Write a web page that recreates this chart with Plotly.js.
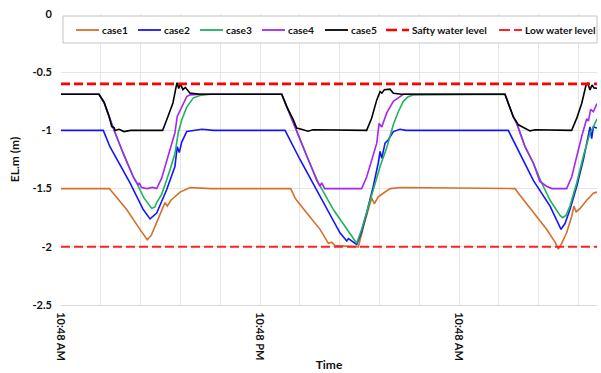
<!DOCTYPE html>
<html><head><meta charset="utf-8">
<script src="https://cdn.plot.ly/plotly-3.0.1.min.js"></script>
<style>html,body{margin:0;padding:0;background:#fff}#chart{width:601px;height:373px}</style>
</head><body><div id="chart"></div>
<script>
// ---- data (x = hours since 10:48 AM, y = EL.m in metres) ----
const seriesNames = ['case1','case2','case3','case4','case5'];
const case1X = [0,2.91,3.15,3.96,4.76,5.0,5.20,5.45,5.77,6.07,6.27,6.41,6.63,7.18,7.78,9.0,13.85,14.11,14.21,14.82,15.62,16.12,16.32,16.52,17.93,18.23,18.53,18.73,18.89,19.13,19.43,19.84,20.5,27.38,27.58,28.48,29.28,29.79,29.99,30.19,30.49,30.79,30.93,31.06,31.30,31.70,32.1,32.32];
const case1Y = [-1.5,-1.5,-1.54,-1.68,-1.85,-1.9,-1.94,-1.9,-1.79,-1.68,-1.62,-1.65,-1.6,-1.53,-1.49,-1.5,-1.5,-1.58,-1.6,-1.71,-1.85,-1.97,-1.96,-1.99,-2.0,-1.83,-1.68,-1.58,-1.63,-1.57,-1.54,-1.5,-1.49,-1.5,-1.54,-1.7,-1.85,-1.96,-2.02,-1.97,-1.88,-1.74,-1.65,-1.7,-1.67,-1.6,-1.54,-1.53];
const case2X = [0,2.55,2.95,4.16,4.96,5.37,5.77,6.37,6.87,7.01,7.13,7.28,7.58,8.0,8.5,9.2,13.51,14.41,15.62,16.82,17.23,17.33,17.83,18.13,18.43,18.83,19.13,19.24,19.34,19.54,19.74,20.04,20.44,20.8,26.97,27.48,28.48,29.49,30.15,30.39,30.69,31.10,31.50,31.8,31.9,32.0,32.1,32.32];
const case2Y = [-1.0,-1.0,-1.14,-1.45,-1.68,-1.76,-1.71,-1.51,-1.31,-1.14,-1.19,-1.1,-1.01,-1.0,-0.99,-1.0,-1.0,-1.25,-1.57,-1.88,-1.95,-1.93,-1.98,-1.87,-1.71,-1.48,-1.28,-1.18,-1.24,-1.11,-1.08,-1.01,-0.99,-1.0,-1.0,-1.15,-1.43,-1.65,-1.85,-1.8,-1.68,-1.48,-1.25,-1.04,-0.97,-1.07,-0.97,-0.98];
const case3X = [0,2.29,2.6,2.9,3.15,3.76,4.36,4.56,5.0,5.47,5.65,5.77,6.07,6.57,6.87,7.07,7.28,7.58,7.98,8.38,9.0,13.31,13.61,14.11,14.82,15.42,15.52,16.42,17.23,17.83,18.13,18.43,18.83,19.24,19.64,20.04,20.34,20.64,20.94,21.24,26.77,26.97,27.27,27.48,27.98,28.48,28.98,29.49,30.09,30.25,30.45,30.69,31.10,31.50,31.8,31.9,32.1,32.32];
const case3Y = [-0.69,-0.69,-0.76,-0.88,-0.98,-1.2,-1.4,-1.45,-1.58,-1.67,-1.66,-1.62,-1.55,-1.34,-1.2,-1.02,-0.91,-0.8,-0.72,-0.7,-0.69,-0.69,-0.8,-0.97,-1.22,-1.43,-1.45,-1.68,-1.85,-1.97,-1.85,-1.71,-1.51,-1.31,-1.15,-0.95,-0.84,-0.75,-0.71,-0.695,-0.69,-0.767,-0.882,-0.94,-1.14,-1.28,-1.45,-1.6,-1.73,-1.75,-1.73,-1.65,-1.45,-1.22,-1.05,-1.02,-0.97,-0.9];
const case4X = [0,2.29,2.6,2.9,3.15,3.76,4.36,4.66,4.72,4.85,5.2,5.5,5.77,6.07,6.47,6.87,7.01,7.37,7.58,7.78,8.38,13.31,13.61,14.11,14.82,15.42,15.62,15.72,15.9,18.13,18.43,18.83,19.04,19.18,19.34,19.64,20.04,20.34,20.64,26.77,26.97,27.27,27.48,27.98,28.48,28.88,28.98,29.28,29.6,30.49,30.79,31.10,31.40,31.70,31.8,31.94,32.1,32.32];
const case4Y = [-0.69,-0.69,-0.76,-0.88,-0.98,-1.2,-1.4,-1.47,-1.45,-1.49,-1.5,-1.49,-1.5,-1.41,-1.22,-1.02,-0.88,-0.78,-0.71,-0.695,-0.69,-0.69,-0.8,-0.97,-1.22,-1.43,-1.48,-1.45,-1.5,-1.5,-1.4,-1.22,-1.11,-0.94,-0.97,-0.85,-0.75,-0.72,-0.69,-0.69,-0.767,-0.882,-0.94,-1.14,-1.28,-1.44,-1.45,-1.48,-1.5,-1.5,-1.4,-1.22,-1.05,-0.9,-0.92,-0.82,-0.84,-0.77];
const case5X = [0,2.29,2.6,2.9,3.06,3.2,3.26,3.5,3.8,4.2,5.0,6.13,6.37,6.75,6.95,7.0,7.1,7.2,7.35,7.5,7.78,8.38,13.31,13.61,14.01,14.21,14.5,14.89,15.2,18.43,18.73,19.04,19.24,19.35,19.5,19.84,20.04,20.54,26.77,26.97,27.27,27.58,27.78,28.28,28.6,30.79,31.10,31.40,31.66,31.76,31.90,32.02,32.14,32.32];
const case5Y = [-0.69,-0.69,-0.76,-0.88,-0.967,-0.975,-1.0,-0.99,-1.01,-1.0,-1.0,-1.0,-0.91,-0.764,-0.62,-0.59,-0.64,-0.6,-0.65,-0.63,-0.68,-0.69,-0.69,-0.796,-0.91,-0.98,-0.99,-1.007,-0.995,-1.0,-0.895,-0.738,-0.667,-0.68,-0.65,-0.646,-0.681,-0.69,-0.69,-0.767,-0.882,-0.952,-0.967,-1.004,-0.995,-1.0,-0.895,-0.767,-0.61,-0.595,-0.652,-0.61,-0.635,-0.638];
const levelNames = ['Safty water level','Low water level'];
const levelValues = [-0.6, -2.0];
const timeRange = [0, 32.32];
const xTickVals = [0,2.4,4.8,7.2,9.6,12,14.4,16.8,19.2,21.6,24,26.4,28.8,31.2];
const xTickText = ['10:48 AM','','','','','10:48 PM','','','','','10:48 AM','','',''];
const yTickVals = [0,-0.5,-1,-1.5,-2,-2.5];
const yTickText = ['0','-0.5','-1','-1.5','-2','-2.5'];

// ---- styles ----
const seriesColors = ['#d4702c','#1515ff','#1fb35a','#a526f2','#000000'];
const levelStyles = [{color:'#ff0000', width:2.6, dash:'9px,4px'}, {color:'#ff2020', width:2, dash:'9px,4px'}];
const FONT = 'Lato, "Liberation Sans", sans-serif';
const TXT = '#111111';

const xs = [case1X, case2X, case3X, case4X, case5X];
const ys = [case1Y, case2Y, case3Y, case4Y, case5Y];
const traces = seriesNames.map((n, i) => ({
  x: xs[i], y: ys[i], name: n, type: 'scatter', mode: 'lines',
  line: {color: seriesColors[i], width: 1.6}, showlegend: false
}));
levelNames.forEach((n, i) => traces.push({
  x: timeRange, y: [levelValues[i], levelValues[i]], name: n, type: 'scatter', mode: 'lines',
  line: levelStyles[i], showlegend: false
}));

// ---- custom legend box (paper coords computed from pixel layout) ----
const M = {l: 61, r: 4, t: 14, b: 68};
const W = 601, H = 373;
const pw = W - M.l - M.r, ph = H - M.t - M.b;
const px2x = p => (p - M.l) / pw;
const py2y = p => (H - M.b - p) / ph;
const legIconX = [76, 138, 200, 262, 325, 386, 499];
const legY = 30;
const legNames = seriesNames.concat(levelNames);
const legStyles = seriesColors.map(c => ({color: c, width: 1.8})).concat([
  {color:'#ff0000', width:2.6, dash:'11px,5px'}, {color:'#ff2020', width:2, dash:'11px,4px'}]);
const shapes = [{type:'rect', xref:'paper', yref:'paper', x0: px2x(63), x1: px2x(597), y0: py2y(43), y1: py2y(16),
  line:{color:'#c4c4c4', width:1}, fillcolor:'#ffffff', layer:'above'}];
const annotations = [];
legNames.forEach((n, i) => {
  shapes.push({type:'line', xref:'paper', yref:'paper', x0: px2x(legIconX[i]), x1: px2x(legIconX[i] + 23),
    y0: py2y(legY), y1: py2y(legY), line: legStyles[i], layer:'above'});
  annotations.push({xref:'paper', yref:'paper', x: px2x(legIconX[i] + 24), y: py2y(legY), xanchor:'left', yanchor:'middle',
    text: n, showarrow:false, font:{family:FONT, size:10.2, color:TXT, weight:'bold'}});
});

const layout = {
  width: W, height: H, margin: M, paper_bgcolor:'#fff', plot_bgcolor:'#fff', showlegend:false,
  font: {family: FONT, color:TXT},
  xaxis: {range: timeRange, tickmode:'array', tickvals: xTickVals, ticktext: xTickText, tickangle: 90,
    showgrid:true, gridcolor:'#e6e6e6', gridwidth:1, zeroline:false, showline:true, linecolor:'#d9d9d9', linewidth:1,
    ticks:'', ticklabelstandoff: 4, tickfont:{family:FONT, size:11, color:TXT, weight:'bold'},
    title:{text:'Time', font:{family:FONT, size:12, color:TXT, weight:'bold'}, standoff: 0}},
  yaxis: {range:[-2.5, 0], tickmode:'array', tickvals: yTickVals, ticktext: yTickText,
    showgrid:true, gridcolor:'#e6e6e6', gridwidth:1, zeroline:false, showline:false, ticks:'',
    ticklabelstandoff: 8, tickfont:{family:FONT, size:11, color:TXT, weight:'bold'},
    title:{text:'EL.m (m)', font:{family:FONT, size:12, color:TXT, weight:'bold'}, standoff: 10}},
  shapes: shapes, annotations: annotations
};
Plotly.newPlot('chart', traces, layout, {staticPlot:true, displayModeBar:false});
</script></body></html>
